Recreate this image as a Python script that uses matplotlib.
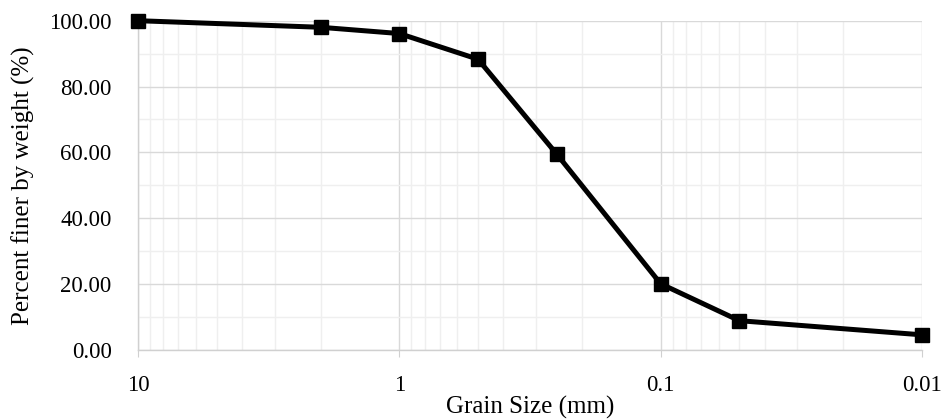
import matplotlib
matplotlib.use("Agg")
import matplotlib.pyplot as plt
from matplotlib.ticker import LogLocator, FixedLocator, NullFormatter

grain_size = [10, 2, 1, 0.5, 0.25, 0.1, 0.05, 0.01]
percent_finer = [100.0, 98.0, 96.1, 88.3, 59.5, 20.1, 8.9, 4.6]
x_ticks = [10, 1, 0.1, 0.01]
x_tick_labels = ["10", "1", "0.1", "0.01"]
y_ticks = [0, 20, 40, 60, 80, 100]

plt.rcParams['font.family'] = ['Liberation Serif', 'DejaVu Serif']

fig = plt.figure(figsize=(9.49, 4.19), dpi=100)
ax = fig.add_axes([0.1454, 0.1647, 0.9716 - 0.1454, 0.9506 - 0.1647])

ax.set_xscale('log')
ax.set_xlim(10, 0.01)
ax.set_ylim(0, 100)

ax.xaxis.set_major_locator(FixedLocator(x_ticks))
ax.set_xticklabels(x_tick_labels)
ax.xaxis.set_minor_locator(LogLocator(base=10, subs=range(2, 10)))
ax.xaxis.set_minor_formatter(NullFormatter())
ax.yaxis.set_major_locator(FixedLocator(y_ticks))
ax.yaxis.set_minor_locator(FixedLocator([10, 30, 50, 70, 90]))
ax.set_yticklabels([f"{v:.2f}" for v in y_ticks])

ax.grid(which='major', color='#d9d9d9', linewidth=1.0)
ax.grid(which='minor', color='#efefef', linewidth=1.0)
ax.set_axisbelow(True)

ax.plot(grain_size, percent_finer, color='black', linewidth=3.6,
        marker='s', markersize=10, clip_on=False, zorder=5)

for s in ['top', 'right']:
    ax.spines[s].set_visible(False)
for s in ['left', 'bottom']:
    ax.spines[s].set_color('#d0d0d0')
    ax.spines[s].set_linewidth(1.0)

ax.tick_params(axis='x', which='major', length=5, color='#d0d0d0', labelsize=16.5, pad=13)
ax.tick_params(axis='x', which='minor', length=0)
ax.tick_params(axis='y', which='both', length=0, labelsize=16.5, pad=19)

ax.set_xlabel('Grain Size (mm)', fontsize=18, labelpad=0)
ax.set_ylabel('Percent finer by weight (%)', fontsize=18, labelpad=10)

fig.savefig('out.png', dpi=100)
